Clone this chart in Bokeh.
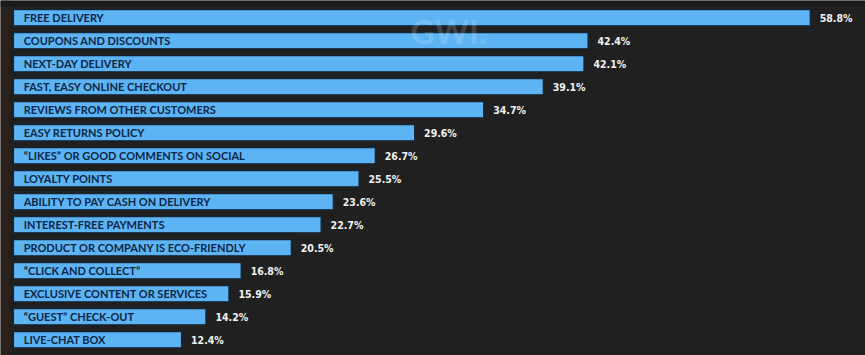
from bokeh.plotting import figure
from bokeh.models import ColumnDataSource, Range1d, Label, BoxAnnotation
from bokeh.core.properties import value
from bokeh.embed import file_html
from bokeh.resources import INLINE

categories = [
    "FREE DELIVERY",
    "COUPONS AND DISCOUNTS",
    "NEXT-DAY DELIVERY",
    "FAST, EASY ONLINE CHECKOUT",
    "REVIEWS FROM OTHER CUSTOMERS",
    "EASY RETURNS POLICY",
    "\u201cLIKES\u201d OR GOOD COMMENTS ON SOCIAL",
    "LOYALTY POINTS",
    "ABILITY TO PAY CASH ON DELIVERY",
    "INTEREST-FREE PAYMENTS",
    "PRODUCT OR COMPANY IS ECO-FRIENDLY",
    "\u201cCLICK AND COLLECT\u201d",
    "EXCLUSIVE CONTENT OR SERVICES",
    "\u201cGUEST\u201d CHECK-OUT",
    "LIVE-CHAT BOX",
]
values = [58.8, 42.4, 42.1, 39.1, 34.7, 29.6, 26.7, 25.5, 23.6, 22.7, 20.5, 16.8, 15.9, 14.2, 12.4]
value_labels = ["%.1f%%" % v for v in values]

W, H = 865, 355
px_per_unit = 13.55
x0_px = 13
row_px = 23.0
first_row_px = 17.2

pos = list(range(len(categories)))
src = ColumnDataSource(dict(
    y=pos, v=values, cat=categories, lab=value_labels,
    lx=[0.75] * len(values),
    vx=[v + 0.7 for v in values],
))

p = figure(width=W, height=H, output_backend="svg", toolbar_location=None,
           x_range=Range1d(-x0_px / px_per_unit, (W - x0_px) / px_per_unit),
           y_range=Range1d((H - first_row_px) / row_px, -first_row_px / row_px),
           min_border=0, min_border_left=0, min_border_right=0,
           min_border_top=0, min_border_bottom=0)
p.background_fill_color = "#202020"
p.border_fill_color = "#202020"
p.outline_line_color = None
p.xaxis.visible = False
p.yaxis.visible = False
p.grid.visible = False

# subtle frame decorations
p.add_layout(BoxAnnotation(left=0, right=9, bottom=0, top=H, left_units="screen", right_units="screen",
                           bottom_units="screen", top_units="screen",
                           fill_color="#2a2019", fill_alpha=1, line_color=None, level="underlay"))
p.add_layout(BoxAnnotation(left=0, right=W, bottom=H - 6, top=H, left_units="screen", right_units="screen",
                           bottom_units="screen", top_units="screen",
                           fill_color="#1a1a1a", fill_alpha=1, line_color=None, level="underlay"))

p.hbar(y="y", left=0, right="v", height=0.7, source=src,
       fill_color="#5db4f4", line_color="#15263a", line_width=1.2)

p.text(x="lx", y="y", text="cat", source=src,
       text_font=value("Lato"), text_font_style="bold", text_font_size="11px",
       text_color="#0e2645", text_baseline="middle", text_align="left")

p.text(x="vx", y="y", text="lab", source=src,
       text_font=value("'DejaVu Sans Condensed', Roboto, sans-serif"), text_font_style="bold",
       text_font_size="10.5px",
       text_color="#f2f2f2", text_baseline="middle", text_align="left")

p.add_layout(Label(x=410, y=H - 30, x_units="screen", y_units="screen", text="GWI.",
                   text_font="Lato", text_font_style="bold", text_font_size="33px",
                   text_baseline="alphabetic",
                   text_color="white", text_alpha=0.18))

open("out.html", "w").write(file_html(p, INLINE))
